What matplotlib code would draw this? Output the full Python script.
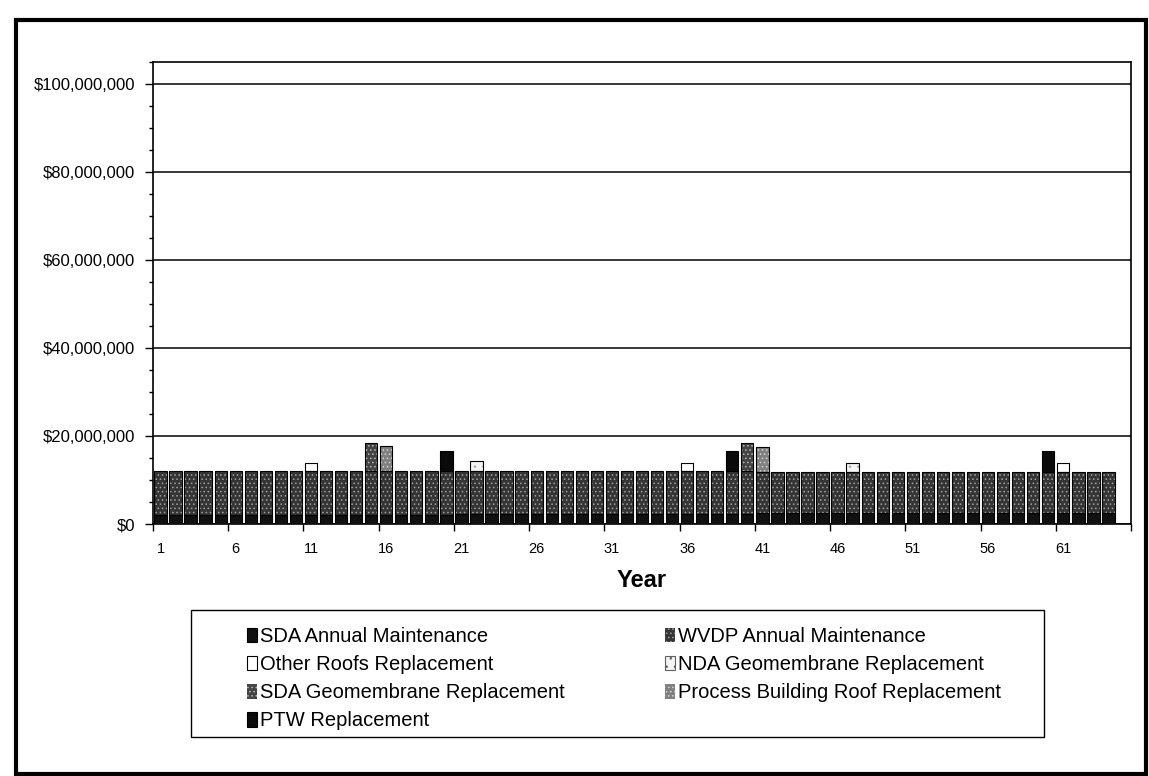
import numpy as np
import matplotlib
matplotlib.use("Agg")
import matplotlib.pyplot as plt
import matplotlib.patches as mpatches
from matplotlib.ticker import FuncFormatter, FixedLocator

plt.rcParams['font.family'] = ['Liberation Sans', 'DejaVu Sans']
plt.rcParams['hatch.linewidth'] = 0.6

# ---------------- data (values in $ millions) ----------------
years = list(range(1, 66))
tick_years = [1, 6, 11, 16, 21, 26, 31, 36, 41, 46, 51, 56, 61]

sda_annual = [2.1] * 20 + [2.2] * 20 + [2.4] * 24 + [0.0]
wvdp_annual = [9.9] * 20 + [9.8] * 20 + [9.4] * 24 + [0.0]

other_roofs = {11: 1.8, 36: 1.9, 61: 2.0}
nda_geomembrane = {22: 2.3, 47: 2.1}
sda_geomembrane = {15: 6.3, 40: 6.4}
process_roof = {16: 5.8, 41: 5.6}
ptw = {20: 4.5, 39: 4.5, 60: 4.7}

labels = ["SDA Annual Maintenance", "WVDP Annual Maintenance",
          "Other Roofs Replacement", "NDA Geomembrane Replacement",
          "SDA Geomembrane Replacement", "Process Building Roof Replacement",
          "PTW Replacement"]


def expand(d):
    return [d.get(y, 0.0) for y in years]


series_values = [sda_annual, wvdp_annual, expand(other_roofs),
                 expand(nda_geomembrane), expand(sda_geomembrane),
                 expand(process_roof), expand(ptw)]

# styles: facecolor, hatch colour, hatch
styles = [("#111111", "#111111", None),
          ("#353535", "#a0a0a0", "...."),
          ("#ffffff", "#ffffff", None),
          ("#f4f4f4", "#a8a8a8", ".."),
          ("#444444", "#b8b8b8", "...."),
          ("#808080", "#d6d6d6", "...."),
          ("#0a0a0a", "#0a0a0a", None)]

W, H = 1149, 776
fig = plt.figure(figsize=(W / 100, H / 100), dpi=100)
ax = fig.add_axes([153 / W, 1 - 524 / H, (1131 - 153) / W, (524 - 62) / H])

xs = np.array(years)
bottom = np.zeros(len(years))
for vals, (fc, hc, hatch) in zip(series_values, styles):
    v = np.array(vals) * 1e6
    m = v > 0
    ax.bar(xs[m], v[m], width=0.82, bottom=bottom[m], color=fc,
           edgecolor=hc, hatch=hatch, linewidth=0, zorder=3)
    ax.bar(xs[m], v[m], width=0.82, bottom=bottom[m], fill=False,
           edgecolor="black", linewidth=0.8, zorder=4)
    bottom += v

ax.set_xlim(0.5, 65.5)
ax.set_ylim(0, 105e6)
ax.set_yticks(np.arange(0, 100e6 + 1, 20e6))
ax.yaxis.set_minor_locator(FixedLocator(np.arange(0, 105e6 + 1, 5e6)))
ax.yaxis.set_major_formatter(FuncFormatter(lambda v, p: f"${v:,.0f}"))
ax.yaxis.grid(True, which="major", color="black", linewidth=1.1)
ax.set_axisbelow(True)

ax.xaxis.set_major_locator(FixedLocator(np.arange(0.5, 66, 5)))
ax.xaxis.set_minor_locator(FixedLocator(tick_years))
ax.xaxis.set_major_formatter(FuncFormatter(lambda v, p: ""))
ax.xaxis.set_minor_formatter(FuncFormatter(lambda v, p: f"{int(round(v))}"))

ax.tick_params(axis="y", which="major", direction="out", length=6, width=1,
               labelsize=12, pad=7)
ax.tick_params(axis="y", which="minor", direction="out", length=3, width=1)
ax.tick_params(axis="x", which="major", direction="out", length=5, width=1)
ax.tick_params(axis="x", which="minor", length=0, labelsize=10.5, pad=13)

for s in ax.spines.values():
    s.set_color("black")
    s.set_linewidth(1.2)

ax.set_xlabel("Year", fontsize=17, fontweight="bold", labelpad=9)

# outer frame
fig.add_artist(mpatches.Rectangle((16 / W, 1 - 774 / H), (1146 - 16) / W,
                                  (774 - 20) / H, transform=fig.transFigure,
                                  fill=False, linewidth=3, edgecolor="black"))
# legend frame
fig.add_artist(mpatches.Rectangle((191 / W, 1 - 737 / H), (1044 - 191) / W,
                                  (737 - 610) / H, transform=fig.transFigure,
                                  fill=False, linewidth=1, edgecolor="black"))

handles = []
for fc, hc, hatch in styles:
    if hatch is None:
        handles.append(mpatches.Patch(facecolor=fc, edgecolor="black", linewidth=0.8))
    elif fc == "#f4f4f4":
        handles.append(mpatches.Patch(facecolor=fc, edgecolor="#606060",
                                      hatch=hatch, linewidth=0.8))
    else:
        handles.append(mpatches.Patch(facecolor=fc, edgecolor=hc, hatch=hatch,
                                      linewidth=0))

col1 = [0, 2, 4, 6]
col2 = [1, 3, 5]
common = dict(frameon=False, borderpad=0, fontsize=14.5, handlelength=0.5,
              handleheight=0.75, handletextpad=0.15, labelspacing=0.45,
              loc="upper left", bbox_transform=fig.transFigure)
fig.legend([handles[i] for i in col1], [labels[i] for i in col1],
           bbox_to_anchor=(237 / W, 1 - 617 / H), **common)
fig.legend([handles[i] for i in col2], [labels[i] for i in col2],
           bbox_to_anchor=(655 / W, 1 - 617 / H), **common)

fig.savefig("out.png", dpi=100)
